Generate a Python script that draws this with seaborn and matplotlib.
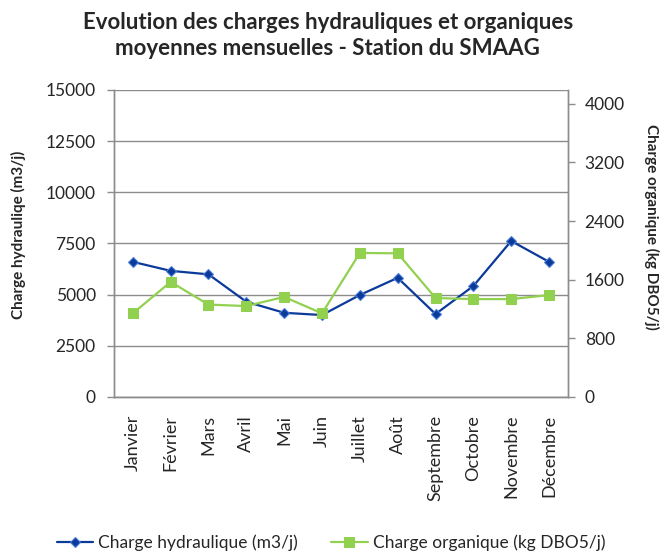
import matplotlib
matplotlib.use("Agg")
import matplotlib.pyplot as plt
import seaborn as sns
import pandas as pd

sns.set_style("white")
plt.rcParams["font.family"] = ["Lato", "DejaVu Sans"]

mois = ["Janvier", "Février", "Mars", "Avril", "Mai", "Juin", "Juillet",
        "Août", "Septembre", "Octobre", "Novembre", "Décembre"]
charge_hydraulique = [6600, 6160, 5990, 4650, 4110, 4000, 4980, 5820, 4050, 5420, 7620, 6600]
charge_organique = [1140, 1570, 1260, 1240, 1365, 1140, 1965, 1960, 1350, 1335, 1335, 1390]

df = pd.DataFrame({"Mois": mois, "hydro": charge_hydraulique, "orga": charge_organique})
df["x"] = range(len(mois))

BLUE = "#0b3a9a"
GREEN = "#92d050"
GRAY = "#8c8c8c"

fig = plt.figure(figsize=(6.62, 5.52), dpi=100)
ax = fig.add_axes([0.172, 0.281, 0.686, 0.556])
ax2 = ax.twinx()

sns.lineplot(data=df, x="x", y="hydro", ax=ax, color=BLUE, lw=2.3, marker="D",
             markersize=5.5, markeredgecolor="#4a7fd6", markeredgewidth=0.8,
             markerfacecolor=BLUE, label="Charge hydraulique (m3/j)", legend=False)
sns.lineplot(data=df, x="x", y="orga", ax=ax2, color=GREEN, lw=2.3, marker="s",
             markersize=8, markeredgecolor=GREEN, markerfacecolor=GREEN,
             label="Charge organique (kg DBO5/j)", legend=False)

ax.set_xlim(-0.5, len(mois) - 0.5)
ax.set_ylim(0, 15000)
ax.set_yticks([0, 2500, 5000, 7500, 10000, 12500, 15000])
ax2.set_ylim(0, 4190)
ax2.set_yticks([0, 800, 1600, 2400, 3200, 4000])

ax.set_xticks(df["x"])
ax.set_xticklabels(mois, rotation=90, fontsize=13)
ax.set_xticks([i - 0.5 for i in range(len(mois) + 1)], minor=True)
ax.tick_params(axis="x", which="major", length=0, pad=13)
ax.tick_params(axis="x", which="minor", length=5, color=GRAY, width=1, direction="out")
ax.tick_params(axis="y", length=5, color=GRAY, width=1, direction="out", labelsize=12.5, pad=8)
ax2.tick_params(axis="y", length=5, color=GRAY, width=1, direction="out", labelsize=12.5, pad=7)

ax.grid(axis="y", color=GRAY, lw=1)
ax.set_axisbelow(True)
for a in (ax, ax2):
    for s in a.spines.values():
        s.set_color(GRAY)
        s.set_linewidth(1)
    a.spines["top"].set_visible(False)

ax.set_xlabel("")
ax.set_ylabel("Charge hydrauliqe (m3/j)", fontsize=11, fontweight="bold", va="center")
ax.yaxis.set_label_coords(-0.21, 0.528)
ax2.set_ylabel("Charge organique (kg DBO5/j)", fontsize=11, fontweight="bold",
               rotation=-90, va="center")
ax2.yaxis.set_label_coords(1.185, 0.554)

fig.suptitle("Evolution des charges hydrauliques et organiques\nmoyennes mensuelles - Station du SMAAG",
             fontsize=16, fontweight="bold", x=0.495, y=0.978, va="top", linespacing=1.3)

h1, l1 = ax.get_legend_handles_labels()
h2, l2 = ax2.get_legend_handles_labels()
for h in h1 + h2:
    h.set_linewidth(1.6)
h1[0].set_markersize(5)
h2[0].set_markersize(7)
fig.legend(h1 + h2, l1 + l2, loc="center", bbox_to_anchor=(0.5, 1 - 543 / 552), ncol=2,
           frameon=False, fontsize=12.5, handlelength=2.1, handletextpad=0.3, columnspacing=1.9)

plt.savefig("out.png", dpi=100)
plt.close()
